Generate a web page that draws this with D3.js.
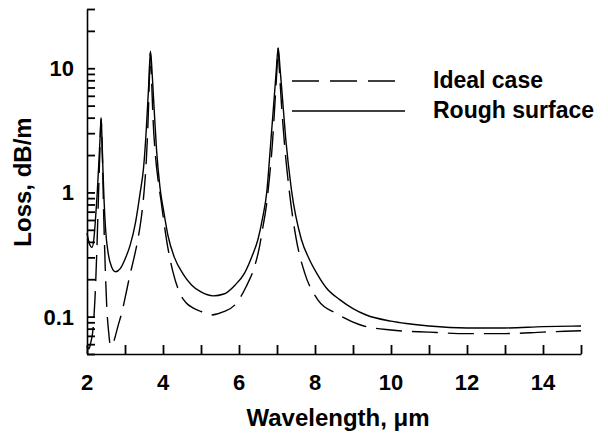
<!DOCTYPE html>
<html>
<head>
<meta charset="utf-8">
<script src="https://cdn.jsdelivr.net/npm/d3@7"></script>
<style>
  body { margin: 0; background: #fff; }
  text { font-family: 'Liberation Sans', Arial, sans-serif; font-weight: bold; fill: #000; }
</style>
</head>
<body>
<div id="chart"></div>
<script>
// rough surface (solid line)
const roughWavelength = [2.00, 2.07, 2.13, 2.18, 2.23, 2.27, 2.31, 2.35, 2.37, 2.39, 2.42, 2.45, 2.49, 2.56, 2.65, 2.75, 2.88, 3.00, 3.14, 3.28, 3.40, 3.49, 3.56, 3.62, 3.67, 3.72, 3.77, 3.83, 3.92, 4.02, 4.13, 4.30, 4.53, 4.75, 5.00, 5.32, 5.60, 5.90, 6.15, 6.35, 6.50, 6.62, 6.73, 6.83, 6.93, 6.98, 7.03, 7.08, 7.13, 7.23, 7.38, 7.64, 7.85, 8.04, 8.30, 8.65, 9.00, 9.35, 10.0, 10.4, 11.0, 12.0, 13.0, 14.0, 15.0];
const roughLoss = [0.47, 0.38, 0.36, 0.42, 0.65, 1.0, 1.7, 3.0, 4.0, 3.0, 1.5, 0.85, 0.5, 0.32, 0.25, 0.23, 0.245, 0.29, 0.38, 0.58, 1.0, 1.6, 3.2, 7.0, 13.7, 8.5, 4.5, 2.2, 1.1, 0.7, 0.45, 0.3, 0.22, 0.18, 0.158, 0.147, 0.152, 0.18, 0.225, 0.31, 0.42, 0.62, 1.0, 2.4, 6.0, 9.5, 14.6, 10.0, 6.5, 2.7, 1.05, 0.42, 0.29, 0.225, 0.17, 0.137, 0.116, 0.103, 0.092, 0.088, 0.084, 0.081, 0.081, 0.083, 0.084];

// ideal case (dashed line)
const idealWavelength = [2.00, 2.05, 2.10, 2.16, 2.21, 2.26, 2.30, 2.34, 2.37, 2.40, 2.44, 2.48, 2.52, 2.57, 2.62, 2.68, 2.73, 2.82, 2.91, 3.02, 3.12, 3.24, 3.34, 3.43, 3.50, 3.56, 3.61, 3.64, 3.67, 3.70, 3.74, 3.80, 3.88, 3.95, 4.03, 4.12, 4.26, 4.44, 4.60, 4.80, 5.00, 5.27, 5.58, 5.93, 6.19, 6.41, 6.54, 6.63, 6.72, 6.80, 6.88, 6.95, 7.00, 7.03, 7.06, 7.12, 7.20, 7.32, 7.51, 7.73, 8.08, 8.56, 9.18, 10.0, 11.0, 12.0, 13.0, 14.0, 15.0];
const idealLoss = [0.058, 0.055, 0.062, 0.08, 0.14, 0.35, 0.9, 2.2, 3.9, 2.2, 0.65, 0.25, 0.12, 0.075, 0.058, 0.06, 0.067, 0.085, 0.106, 0.15, 0.21, 0.3, 0.42, 0.63, 1.0, 1.8, 4.0, 8.0, 13.5, 8.0, 3.8, 2.0, 1.2, 0.85, 0.56, 0.37, 0.23, 0.155, 0.13, 0.117, 0.11, 0.103, 0.109, 0.128, 0.175, 0.253, 0.366, 0.53, 0.78, 1.3, 2.5, 5.5, 10.0, 14.5, 10.0, 5.0, 2.4, 1.05, 0.415, 0.224, 0.136, 0.106, 0.086, 0.078, 0.075, 0.073, 0.073, 0.075, 0.077];

const xTicks = [2, 3, 4, 5, 6, 7, 8, 9, 10, 11, 12, 13, 14, 15];
const xTickLabels = [2, 4, 6, 8, 10, 12, 14];
const yTicks = [0.05, 0.06, 0.07, 0.08, 0.09, 0.1, 0.2, 0.3, 0.4, 0.5, 0.6, 0.7, 0.8, 0.9, 1, 2, 3, 4, 5, 6, 7, 8, 9, 10, 20, 30];
const yTickLabels = [0.1, 1, 10];
const legendLabels = ['Ideal case', 'Rough surface'];

const width = 608;
const height = 435;
const plot = { left: 87, right: 581, top: 9, bottom: 354 };

const xScale = d3.scaleLinear()
  .domain([2, 15])
  .range([plot.left, plot.right]);

const yScale = d3.scaleLog()
  .domain([0.05, 30])
  .range([plot.bottom, plot.top]);

const svg = d3.select('#chart').append('svg')
  .attr('width', width)
  .attr('height', height);

svg.selectAll('.x-label')
  .data(xTickLabels)
  .enter()
  .append('text')
  .attr('x', d => xScale(d))
  .attr('y', 390)
  .attr('text-anchor', 'middle')
  .style('font-size', '22px')
  .text(d => d);

svg.selectAll('.y-label')
  .data(yTickLabels)
  .enter()
  .append('text')
  .attr('x', 74)
  .attr('y', d => yScale(d) + 8)
  .attr('text-anchor', 'end')
  .style('font-size', '22px')
  .text(d => d);

svg.append('text')
  .attr('transform', 'translate(31, 182) rotate(-90)')
  .attr('text-anchor', 'middle')
  .style('font-size', '24px')
  .text('Loss, dB/m');

svg.append('text')
  .attr('x', 338)
  .attr('y', 426)
  .attr('text-anchor', 'middle')
  .style('font-size', '24px')
  .text('Wavelength, μm');

const line = d3.line()
  .x(d => xScale(d[0]))
  .y(d => yScale(d[1]))
  .curve(d3.curveMonotoneX);

svg.append('path')
  .datum(d3.zip(idealWavelength, idealLoss))
  .attr('fill', 'none')
  .attr('stroke', '#000')
  .attr('stroke-width', 1.4)
  .attr('stroke-dasharray', '26,10')
  .attr('d', line);

svg.append('path')
  .datum(d3.zip(roughWavelength, roughLoss))
  .attr('fill', 'none')
  .attr('stroke', '#000')
  .attr('stroke-width', 1.4)
  .attr('d', line);

// legend
const legend = svg.append('g');

legend.append('line')
  .attr('x1', 292).attr('x2', 395)
  .attr('y1', 81).attr('y2', 81)
  .attr('stroke', '#000')
  .attr('stroke-width', 1.4)
  .attr('stroke-dasharray', '27,11');

legend.append('line')
  .attr('x1', 292).attr('x2', 405)
  .attr('y1', 111).attr('y2', 111)
  .attr('stroke', '#000')
  .attr('stroke-width', 1.4);

legend.selectAll('.legend-label')
  .data(legendLabels)
  .enter()
  .append('text')
  .attr('x', 433)
  .attr('y', (d, i) => 88 + i * 29.5)
  .style('font-size', '23px')
  .text(d => d);

// axes with inward ticks, drawn last
const xAxis = svg.append('g')
  .attr('transform', `translate(0, ${plot.bottom})`)
  .call(d3.axisBottom(xScale).tickValues(xTicks).tickSizeInner(-9).tickSizeOuter(0).tickFormat(() => ''));

const yAxis = svg.append('g')
  .attr('transform', `translate(${plot.left}, 0)`)
  .call(d3.axisLeft(yScale).tickValues(yTicks).tickSizeInner(-8).tickSizeOuter(0).tickFormat(() => ''));

[xAxis, yAxis].forEach(function (axis) {
  axis.select('.domain')
    .attr('stroke', '#000')
    .attr('stroke-width', 1.6);
  axis.selectAll('.tick line')
    .attr('stroke', '#000')
    .attr('stroke-width', 1.8);
});
</script>
</body>
</html>
